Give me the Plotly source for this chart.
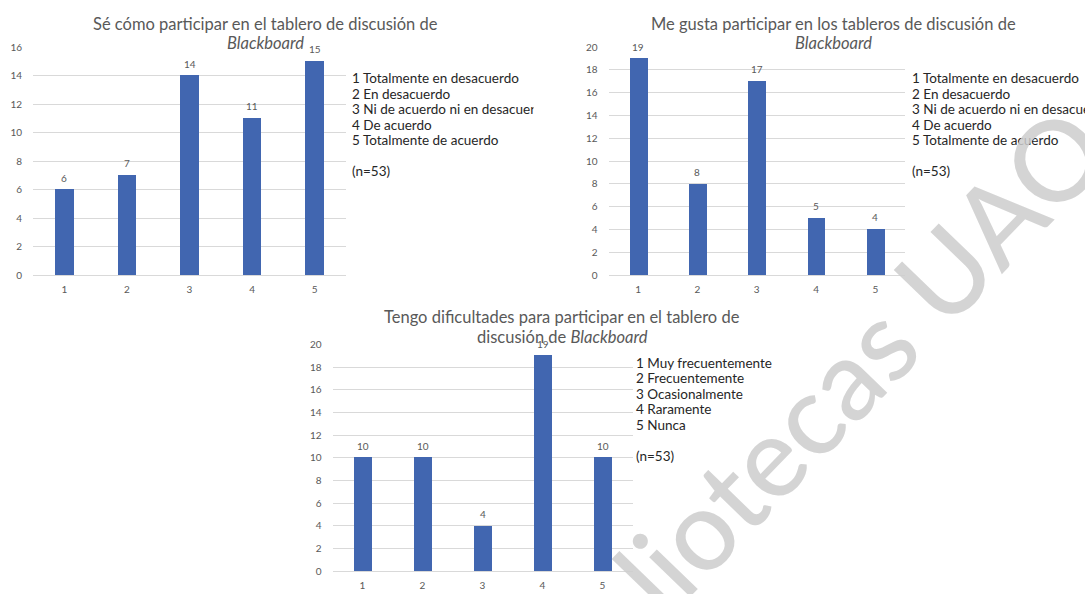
import plotly.graph_objects as go

W, H = 1085, 594

# ---------------- data ----------------
categories = [1, 2, 3, 4, 5]

title1_line1 = "Sé cómo participar en el tablero de discusión de"
title1_line2 = "<i>Blackboard</i>"
values1 = [6, 7, 14, 11, 15]
legend1 = ["1 Totalmente en desacuerdo", "2 En desacuerdo",
           "3 Ni de acuerdo ni en desacuerdo", "4 De acuerdo",
           "5 Totalmente de acuerdo"]

title2_line1 = "Me gusta participar en los tableros de discusión de"
title2_line2 = "<i>Blackboard</i>"
values2 = [19, 8, 17, 5, 4]
legend2 = ["1 Totalmente en desacuerdo", "2 En desacuerdo",
           "3 Ni de acuerdo ni en desacuerdo", "4 De acuerdo",
           "5 Totalmente de acuerdo"]

title3_line1 = "Tengo dificultades para participar en el tablero de"
title3_line2 = "discusión de <i>Blackboard</i>"
values3 = [10, 10, 4, 19, 10]
legend3 = ["1 Muy frecuentemente", "2 Frecuentemente", "3 Ocasionalmente",
           "4 Raramente", "5 Nunca"]

n_label = "(n=53)"
watermark = "Bibliotecas UAQ"

y_ticks1 = [0, 2, 4, 6, 8, 10, 12, 14, 16]
y_ticks2 = [0, 2, 4, 6, 8, 10, 12, 14, 16, 18, 20]
y_ticks3 = [0, 2, 4, 6, 8, 10, 12, 14, 16, 18, 20]

# ---------------- styling ----------------
BAR = "#4166B0"
GRID = "#D9D9D9"
TICK = "#595959"
FONT = "Lato"


def px(x):
    return x / W


def py(y):
    return 1 - y / H


fig = go.Figure()

panels = [
    dict(vals=values1, xd=(33, 346), yd=(274, 41), rng=16, ticks=y_ticks1,
         t1=title1_line1, t2=title1_line2, tx=265, leg=legend1, lx=350, ly0=73, ny=168),
    dict(vals=values2, xd=(608.5, 905), yd=(274, 41), rng=20, ticks=y_ticks2,
         t1=title2_line1, t2=title2_line2, tx=833, leg=legend2, lx=910, ly0=73, ny=168),
    dict(vals=values3, xd=(332.5, 632.5), yd=(577, 345), rng=20, ticks=y_ticks3,
         t1=title3_line1, t2=title3_line2, tx=562, leg=legend3, lx=634, ly0=364, ny=459),
]

annotations = []
for i, p in enumerate(panels, start=1):
    xa = "x" if i == 1 else f"x{i}"
    ya = "y" if i == 1 else f"y{i}"
    fig.add_trace(go.Bar(x=categories, y=p["vals"], width=0.3,
                         marker=dict(color=BAR, line=dict(width=0)),
                         xaxis=xa, yaxis=ya, showlegend=False, hoverinfo="x+y"))
    sfx = "" if i == 1 else str(i)
    fig.update_layout(**{
        f"xaxis{sfx}": dict(domain=[px(p["xd"][0]), px(p["xd"][1])], range=[0.5, 5.5],
                            tickvals=categories, showgrid=False, zeroline=False,
                            showline=False, ticks="", ticklabelstandoff=7,
                            tickfont=dict(family=FONT, size=10, color=TICK),
                            anchor=ya, fixedrange=True),
        f"yaxis{sfx}": dict(domain=[py(p["yd"][0]), py(p["yd"][1])], range=[0, p["rng"]],
                            tickvals=p["ticks"], showgrid=True, gridcolor=GRID, gridwidth=1,
                            zeroline=True, zerolinecolor=GRID, zerolinewidth=1,
                            showline=False, ticks="", ticklabelstandoff=10,
                            tickfont=dict(family=FONT, size=10, color=TICK),
                            anchor=xa, fixedrange=True),
    })
    # data labels
    for c, v in zip(categories, p["vals"]):
        annotations.append(dict(x=c, y=v, xref=xa, yref=ya, text=str(v), showarrow=False,
                                yanchor="middle", yshift=12,
                                font=dict(family=FONT, size=10, color=TICK)))
    # title
    ty = 17 if i < 3 else 317
    annotations.append(dict(x=px(p["tx"]), y=py(ty), xref="paper", yref="paper",
                            text=p["t1"], showarrow=False, xanchor="center", yanchor="middle",
                            font=dict(family=FONT, size=16.5, color=TICK)))
    annotations.append(dict(x=px(p["tx"]), y=py(ty + 20), xref="paper", yref="paper",
                            text=p["t2"], showarrow=False, xanchor="center", yanchor="middle",
                            font=dict(family=FONT, size=16.5, color=TICK)))
    # legend text block
    for k, line in enumerate(p["leg"]):
        annotations.append(dict(x=px(p["lx"]), y=py(p["ly0"] + k * 15.8), xref="paper",
                                yref="paper", text=line, showarrow=False, xanchor="left",
                                yanchor="middle",
                                font=dict(family=FONT, size=13.5, color="#262626")))
    annotations.append(dict(x=px(p["lx"]), y=py(p["ny"]), xref="paper", yref="paper",
                            text=n_label, showarrow=False, xanchor="left", yanchor="middle",
                            font=dict(family=FONT, size=13.5, color="#262626")))

# white mask clipping the overflowing legend line of the first chart (as in the original)
annotations.append(dict(x=px(533), y=py(105), xref="paper", yref="paper", text=" ",
                        showarrow=False, xanchor="left", yanchor="middle", width=30, height=18,
                        bgcolor="white", font=dict(size=10)))

# watermark
annotations.append(dict(x=px(803), y=py(420), xref="paper", yref="paper", text=watermark,
                        showarrow=False, textangle=-46, xanchor="center", yanchor="middle",
                        font=dict(family="Lato", size=112, weight=500,
                                  color="rgba(205,205,205,0.85)")))

fig.update_layout(width=W, height=H, margin=dict(l=0, r=0, t=0, b=0),
                  paper_bgcolor="white", plot_bgcolor="white",
                  annotations=annotations, bargap=0)

fig.write_html("out.html")
